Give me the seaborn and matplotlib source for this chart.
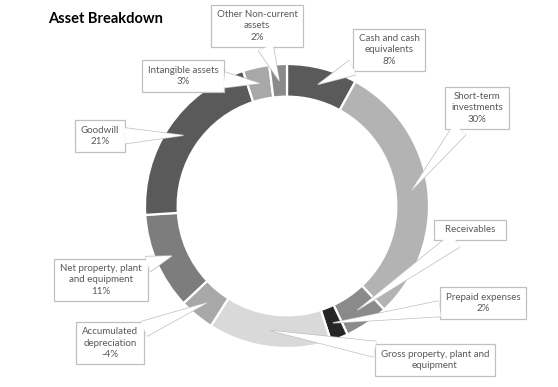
import numpy as np
import matplotlib
matplotlib.use('Agg')
import matplotlib.pyplot as plt
import seaborn as sns

# --- data (percent of total assets, clockwise from 12 o'clock) ---
categories = ["Cash and cash\nequivalents", "Short-term\ninvestments", "  Receivables  ",
              "Prepaid expenses", "Gross property, plant and\nequipment",
              "Accumulated\ndepreciation", "Net property, plant\nand equipment",
              "Goodwill", "Intangible assets", "Other Non-current\nassets"]
values = [8, 30, 5, 2, 14, -4, 11, 21, 3, 2]
pct_labels = ["8%", "30%", "", "2%", "", "-4%", "11%", "21%", "3%", "2%"]
colors = ["#5a5a5a", "#b3b3b3", "#8a8a8a", "#262626", "#d9d9d9",
          "#a8a8a8", "#7d7d7d", "#5a5a5a", "#a8a8a8", "#8a8a8a"]

# callout box centres in pixels (from top-left of the 558x387 image)
box_pos = [(389, 50), (477, 108), (470, 230), (483, 303), (435, 360),
           (110, 343), (101, 280), (100, 136), (183, 76), (257, 26)]

W, H = 558, 387
CX, CY, R = 287, 206, 142  # donut centre / radius in pixels
ring = 0.23

sns.set_theme(style="white")
plt.rcParams['font.family'] = ['Lato', 'DejaVu Sans']

fig = plt.figure(figsize=(W / 100, H / 100), dpi=100)
ax = fig.add_axes([0, 0, 1, 1])

wedges, _ = ax.pie(np.abs(values), colors=colors, startangle=90, counterclock=False,
                   radius=1, wedgeprops=dict(width=ring, edgecolor="white", linewidth=1.6))
ax.set_xlim(-CX / R, (W - CX) / R)
ax.set_ylim(-(H - CY) / R, CY / R)
ax.set_aspect('auto')
ax.axis('off')

r_mid = 1 - ring / 2
wedge_style = 'wedge,tail_width=1.6,shrink_factor=0.5'
for w, name, pct, (bx, by) in zip(wedges, categories, pct_labels, box_pos):
    ang = np.deg2rad((w.theta1 + w.theta2) / 2)
    tip = (r_mid * np.cos(ang), r_mid * np.sin(ang))
    txt = name + ("\n" + pct if pct else "")
    common = dict(xy=tip, xytext=(bx / W, 1 - by / H), textcoords='axes fraction',
                  ha='center', va='center', multialignment='center',
                  fontsize=7, linespacing=1.3)
    # callout box + wedge outline
    ax.annotate(txt, color='#595959',
                bbox=dict(boxstyle='square,pad=0.6', fc='white', ec='#c0c0c0', lw=0.9),
                arrowprops=dict(arrowstyle=wedge_style, fc='white', ec='#c0c0c0', lw=1.0,
                                shrinkA=0, shrinkB=0),
                zorder=5, **common)
    # white wedge on top to hide the box border at the wedge base
    ax.annotate(txt, color='none',
                bbox=dict(boxstyle='square,pad=0.6', fc='none', ec='none'),
                arrowprops=dict(arrowstyle=wedge_style, fc='white', ec='none', lw=0,
                                shrinkA=0, shrinkB=0),
                zorder=6, **common)

fig.text(48 / W, 1 - 19 / H, "Asset Breakdown", ha='left', va='center',
         fontsize=10.5, fontweight='bold', color='black')

fig.savefig("out.png", dpi=100)
